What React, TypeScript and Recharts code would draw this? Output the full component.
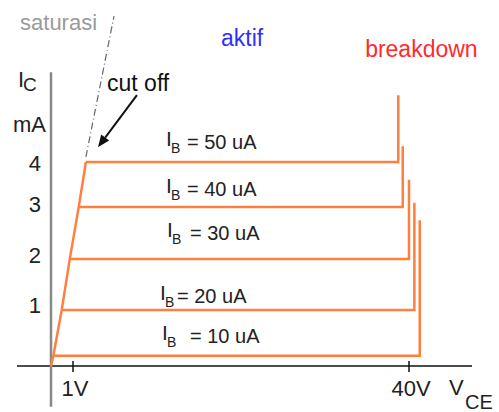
import React from 'react'
import { ComposedChart, Line, XAxis, YAxis, ReferenceLine, ReferenceDot } from 'recharts'

// transistor output characteristic (schematic, not to scale)
const baseCurrents = [10, 20, 30, 40, 50] // uA
const kneeVce = [0.26, 1.2, 2.1, 3.1, 3.9] // V
const collectorLevels = [0.2, 1.1, 2.1, 3.12, 4.0] // mA
const breakdownVce = [41.2, 40.6, 40.0, 39.3, 38.8] // V
const breakdownTops = [2.86, 3.2, 3.65, 4.31, 5.31] // mA

const vceTicks = [2.46, 40]
const vceTickLabels = ['1V', '40V']
const icTicks = [1.2, 2.18, 3.18, 3.98]
const icTickLabels = ['1', '2', '3', '4']

const saturasiVce = [3.9, 7.04]
const saturasiIc = [4.1, 6.86]

const orange = '#ff7f3f'
const font = 'Liberation Sans'

const curves = baseCurrents.map((ib, i) => ({
  ib,
  points: [
    { v: kneeVce[i], ic: collectorLevels[i] },
    { v: breakdownVce[i], ic: collectorLevels[i] },
    { v: breakdownVce[i], ic: breakdownTops[i] },
  ],
}))
const ramp = [{ v: 0, ic: 0 }, ...kneeVce.map((v, i) => ({ v, ic: collectorLevels[i] }))]
const saturasi = saturasiVce.map((v, i) => ({ v, ic: saturasiIc[i] }))

// text placement (in chart units)
const notes = [
  { text: 'saturasi', v: -3.46, ic: 6.59, color: '#9a9a9a', size: 22 },
  { text: 'aktif', v: 19.0, ic: 6.27, color: '#2f2fff', size: 23 },
  { text: 'breakdown', v: 35.1, ic: 6.06, color: '#ff2b2b', size: 23 },
  { text: 'cut off', v: 6.26, ic: 5.39, color: '#111', size: 23 },
  { text: 'mA', v: -4.25, ic: 4.59, color: '#222', size: 22 },
]
const ibLabelPos = [
  { v: 12.4, ic: 0.45, dx: 28 },
  { v: 12.18, ic: 1.24, dx: 17 },
  { v: 12.96, ic: 2.47, dx: 23 },
  { v: 12.85, ic: 3.33, dx: 21 },
  { v: 12.85, ic: 4.25, dx: 21 },
]

export default function App() {
  return (
    <div style={{ position: 'absolute', left: 0, top: 0, fontFamily: font }}>
      <ComposedChart width={499} height={412} margin={{ top: 9, right: 27, bottom: 0, left: 0 }} style={{ fontFamily: font }}>
        <XAxis
          type="number"
          dataKey="v"
          domain={[0, 47.04]}
          ticks={vceTicks}
          interval={0}
          axisLine={false}
          tickLine={false}
          tickSize={0}
          tickMargin={0}
          height={46}
          tick={(p: any) => (
            <g>
              <line x1={p.x} x2={p.x} y1={p.y - 5} y2={p.y + 6} stroke="#111" strokeWidth={1.5} />
              <text x={p.x + 2} y={p.y + 30} textAnchor="middle" fontSize={22} fill="#222" fontFamily={font}>
                {vceTickLabels[vceTicks.indexOf(p.payload.value)]}
              </text>
            </g>
          )}
        />
        <YAxis
          type="number"
          domain={[0, 7]}
          ticks={icTicks}
          interval={0}
          width={51}
          axisLine={false}
          tickLine={false}
          tickSize={0}
          tickMargin={10}
          tickFormatter={(v: number) => icTickLabels[icTicks.indexOf(v)]}
          tick={{ fontSize: 22, fill: '#222', fontFamily: font }}
        />

        {/* axes */}
        <ReferenceLine segment={[{ x: -3.8, y: 0 }, { x: 47.04, y: 0 }]} stroke="#111" strokeWidth={1.5} ifOverflow="visible" />
        <ReferenceLine segment={[{ x: 0, y: -0.8 }, { x: 0, y: 5.76 }]} stroke="#888" strokeWidth={2.5} ifOverflow="visible" />

        <Line data={saturasi} dataKey="ic" stroke="#666" strokeWidth={1.2} strokeDasharray="7 3 1 3" dot={false} isAnimationActive={false} />
        <Line data={ramp} dataKey="ic" stroke={orange} strokeWidth={2.5} dot={false} isAnimationActive={false} />
        {curves.map(c => (
          <Line key={c.ib} data={c.points} dataKey="ic" stroke={orange} strokeWidth={2.5} dot={false} isAnimationActive={false} />
        ))}

        {/* cut off arrow */}
        <ReferenceLine
          segment={[{ x: 9.6, y: 5.31 }, { x: 5.25, y: 4.29 }]}
          ifOverflow="visible"
          shape={(p: any) => {
            const { x1, y1, x2, y2 } = p
            const a = Math.atan2(y2 - y1, x2 - x1)
            const len = 12, w = 5
            const bx = x2 - len * Math.cos(a), by = y2 - len * Math.sin(a)
            const pts = [
              [x2, y2],
              [bx + w * Math.sin(a), by - w * Math.cos(a)],
              [bx - w * Math.sin(a), by + w * Math.cos(a)],
            ].map(q => q.join(',')).join(' ')
            return (
              <g>
                <line x1={x1} y1={y1} x2={bx} y2={by} stroke="#111" strokeWidth={2} />
                <polygon points={pts} fill="#111" />
              </g>
            )
          }}
        />

        {notes.map(n => (
          <ReferenceDot key={n.text} x={n.v} y={n.ic} r={0} ifOverflow="visible"
            shape={(p: any) => (
              <text x={p.cx} y={p.cy} fontSize={n.size} fill={n.color} fontFamily={font}>{n.text}</text>
            )}
          />
        ))}

        {/* I_C and V_CE axis titles */}
        <ReferenceDot x={-3.69} y={5.47} r={0} ifOverflow="visible"
          shape={(p: any) => (
            <text fill="#222" fontFamily={font}>
              <tspan x={p.cx} y={p.cy} fontSize={22}>I</tspan>
              <tspan x={p.cx + 5} y={p.cy + 4} fontSize={19}>C</tspan>
            </text>
          )}
        />
        <ReferenceDot x={44.47} y={-0.57} r={0} ifOverflow="visible"
          shape={(p: any) => (
            <text fill="#222" fontFamily={font}>
              <tspan x={p.cx} y={p.cy} fontSize={22}>V</tspan>
              <tspan x={p.cx + 16} y={p.cy + 14} fontSize={20}>CE</tspan>
            </text>
          )}
        />

        {baseCurrents.map((ib, i) => (
          <ReferenceDot key={'lbl' + ib} x={ibLabelPos[i].v} y={ibLabelPos[i].ic} r={0} ifOverflow="visible"
            shape={(p: any) => (
              <text fill="#222" fontFamily={font}>
                <tspan x={p.cx} y={p.cy - 3} fontSize={21}>I</tspan>
                <tspan x={p.cx + 5} y={p.cy + 4} fontSize={14}>B</tspan>
                <tspan x={p.cx + ibLabelPos[i].dx} y={p.cy} fontSize={20}>= {ib} uA</tspan>
              </text>
            )}
          />
        ))}
      </ComposedChart>
    </div>
  )
}
